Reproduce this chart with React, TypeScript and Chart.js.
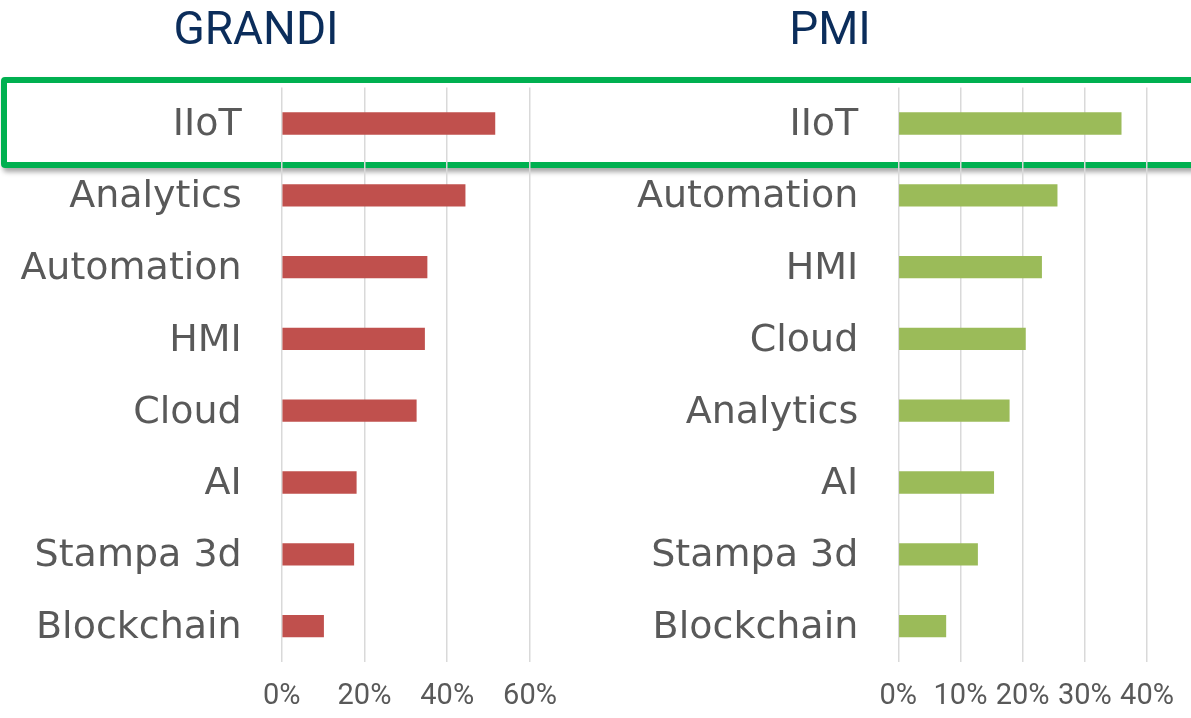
import React, { useEffect, useRef } from "react";
import { Chart, registerables } from "chart.js";

Chart.register(...registerables);

const grandiTitle = "GRANDI";
const grandiLabels = ["IIoT", "Analytics", "Automation", "HMI", "Cloud", "AI", "Stampa 3d", "Blockchain"];
const grandiValues = [51.6, 44.4, 35.2, 34.6, 32.6, 18.1, 17.5, 10.2];
const grandiTicks = [0, 20, 40, 60];

const pmiTitle = "PMI";
const pmiLabels = ["IIoT", "Automation", "HMI", "Cloud", "Analytics", "AI", "Stampa 3d", "Blockchain"];
const pmiValues = [35.9, 25.6, 23.1, 20.5, 17.9, 15.4, 12.8, 7.7];
const pmiTicks = [0, 10, 20, 30, 40];

const NARROW = 'Roboto, "DejaVu Sans Condensed", sans-serif';
const LABEL_FONT = '"DejaVu Sans", sans-serif';

function makeConfig(
  title: string,
  labels: string[],
  values: number[],
  ticks: number[],
  color: string,
  yWidth: number,
  padRight: number
): any {
  return {
    type: "bar",
    data: {
      labels,
      datasets: [
        {
          data: values,
          backgroundColor: color,
          borderWidth: 0,
          categoryPercentage: 1,
          barPercentage: 0.31,
        },
      ],
    },
    options: {
      indexAxis: "y",
      responsive: false,
      animation: false,
      layout: { padding: { left: 0, right: padRight, top: 0, bottom: 0 } },
      plugins: {
        legend: { display: false },
        tooltip: { enabled: false },
        title: {
          display: true,
          text: title,
          color: "#0B2D5B",
          font: { family: NARROW, size: 46, weight: "normal", lineHeight: 1.2 },
          padding: { top: 5, bottom: 27.4 },
        },
      },
      scales: {
        x: {
          min: ticks[0],
          max: ticks[ticks.length - 1],
          afterBuildTicks: (scale: any) => {
            scale.ticks = ticks.map((v) => ({ value: v }));
          },
          afterFit: (scale: any) => {
            scale.height = 56;
            scale.paddingLeft = 0;
            scale.paddingRight = 0;
          },
          grid: { display: true, color: "#D9D9D9", lineWidth: 1.5, drawTicks: false },
          border: { display: false },
          ticks: {
            color: "#595959",
            padding: 17,
            minRotation: 0,
            maxRotation: 0,
            autoSkip: false,
            font: { family: NARROW, size: 29 },
            callback: (v: any) => v + "%",
          },
        },
        y: {
          afterFit: (scale: any) => {
            scale.width = yWidth;
            scale.paddingTop = 0;
            scale.paddingBottom = 0;
          },
          grid: { display: false, drawTicks: false },
          border: { display: false },
          ticks: {
            color: "#595959",
            padding: 40,
            labelOffset: 2,
            autoSkip: false,
            font: { family: LABEL_FONT, size: 38 },
          },
        },
      },
    },
  };
}

export default function App() {
  const leftRef = useRef<HTMLCanvasElement | null>(null);
  const rightRef = useRef<HTMLCanvasElement | null>(null);

  useEffect(() => {
    const c1 = new Chart(
      leftRef.current as HTMLCanvasElement,
      makeConfig(grandiTitle, grandiLabels, grandiValues, grandiTicks, "#C0504D", 299.7, 32)
    );
    const c2 = new Chart(
      rightRef.current as HTMLCanvasElement,
      makeConfig(pmiTitle, pmiLabels, pmiValues, pmiTicks, "#9BBB59", 385.3, 44)
    );
    return () => {
      c1.destroy();
      c2.destroy();
    };
  }, []);

  return (
    <div
      style={{
        position: "absolute",
        left: 0,
        top: 0,
        width: 1191,
        height: 718,
        overflow: "hidden",
        background: "#ffffff",
      }}
    >
      <div
        style={{
          position: "absolute",
          left: 1,
          top: 77,
          width: 1230,
          height: 91,
          boxSizing: "border-box",
          border: "6px solid #00B050",
          borderRadius: 4,
          boxShadow: "2px 4px 5px rgba(0,0,0,0.35)",
        }}
      />
      <canvas
        ref={leftRef}
        width={580}
        height={718}
        style={{ position: "absolute", left: -18, top: 0, width: 580, height: 718 }}
      />
      <canvas
        ref={rightRef}
        width={678}
        height={718}
        style={{ position: "absolute", left: 513, top: 0, width: 678, height: 718 }}
      />
    </div>
  );
}
